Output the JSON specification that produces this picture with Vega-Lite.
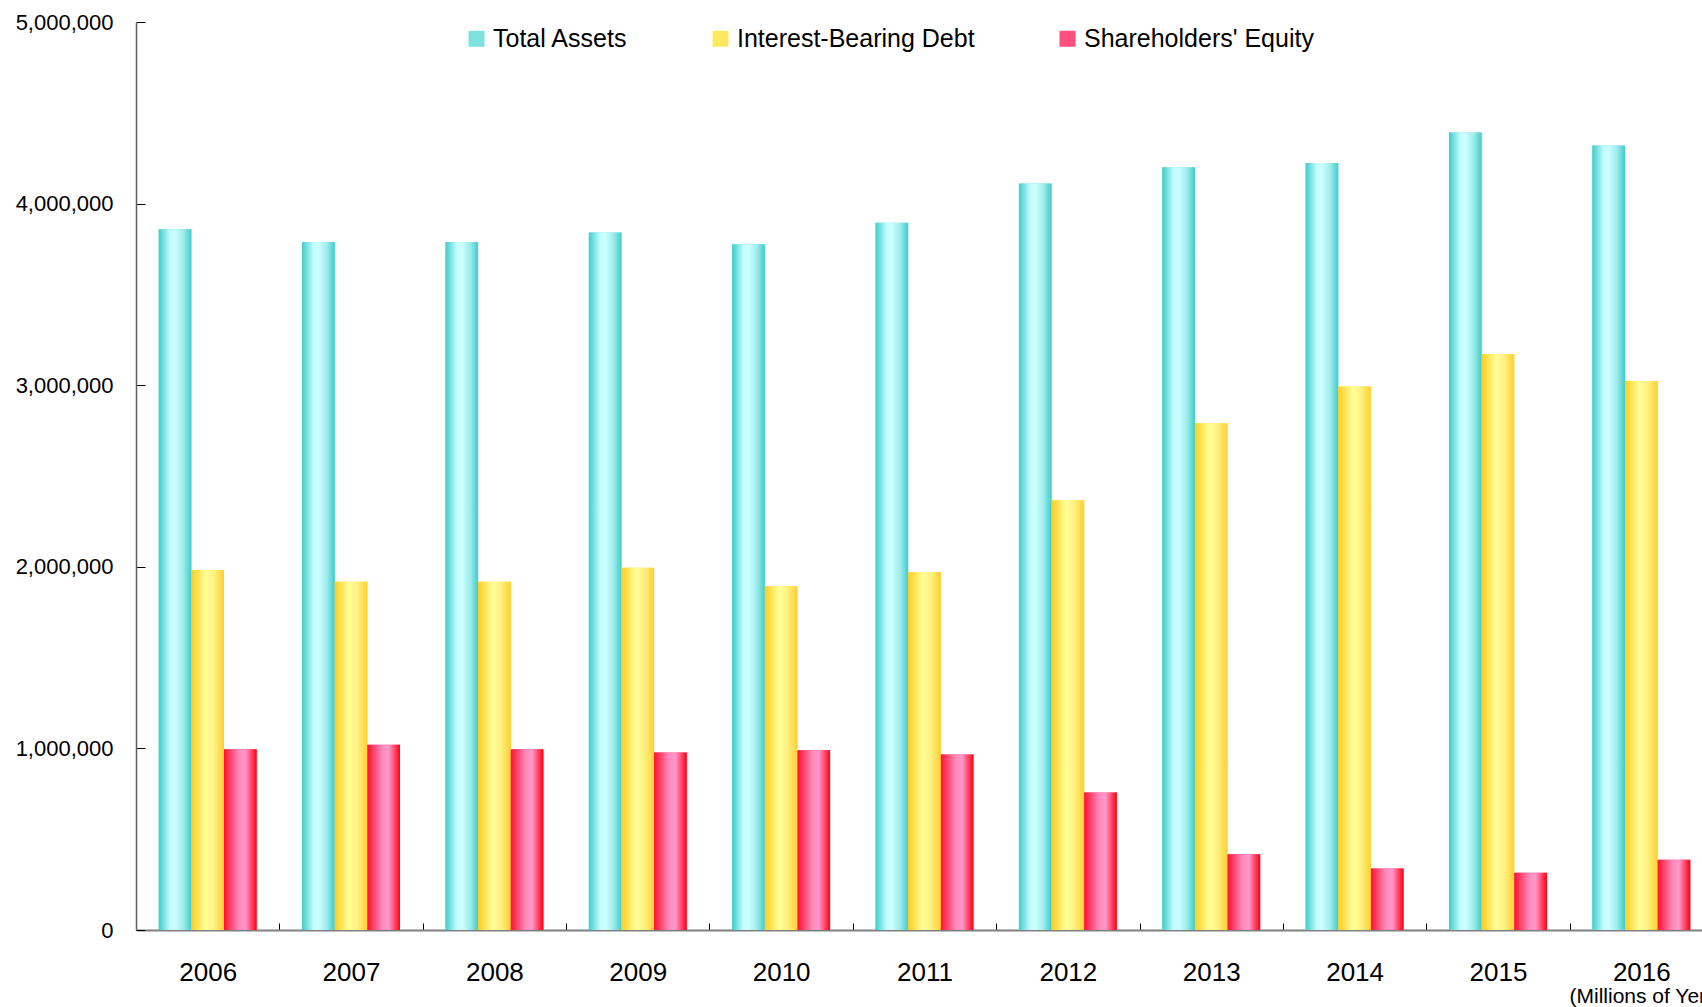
{
  "$schema": "https://vega.github.io/schema/vega-lite/v6.json",
  "width": 1566,
  "height": 908,
  "autosize": {"type": "none"},
  "padding": {"left": 136, "top": 22, "right": 0, "bottom": 77},
  "config": {
    "view": {"stroke": null},
    "font": "Liberation Sans",
    "axis": {"grid": false, "labelColor": "#000000", "labelFont": "Liberation Sans", "titleFont": "Liberation Sans"}
  },
  "data": {
    "values": [
      {"year": "2006", "series": "Total Assets", "value": 3859000},
      {"year": "2007", "series": "Total Assets", "value": 3788000},
      {"year": "2008", "series": "Total Assets", "value": 3788000},
      {"year": "2009", "series": "Total Assets", "value": 3841000},
      {"year": "2010", "series": "Total Assets", "value": 3776000},
      {"year": "2011", "series": "Total Assets", "value": 3895000},
      {"year": "2012", "series": "Total Assets", "value": 4111000},
      {"year": "2013", "series": "Total Assets", "value": 4200000},
      {"year": "2014", "series": "Total Assets", "value": 4224000},
      {"year": "2015", "series": "Total Assets", "value": 4391000},
      {"year": "2016", "series": "Total Assets", "value": 4320000},
      {"year": "2006", "series": "Interest-Bearing Debt", "value": 1983000},
      {"year": "2007", "series": "Interest-Bearing Debt", "value": 1917000},
      {"year": "2008", "series": "Interest-Bearing Debt", "value": 1917000},
      {"year": "2009", "series": "Interest-Bearing Debt", "value": 1995000},
      {"year": "2010", "series": "Interest-Bearing Debt", "value": 1893000},
      {"year": "2011", "series": "Interest-Bearing Debt", "value": 1971000},
      {"year": "2012", "series": "Interest-Bearing Debt", "value": 2366000},
      {"year": "2013", "series": "Interest-Bearing Debt", "value": 2790000},
      {"year": "2014", "series": "Interest-Bearing Debt", "value": 2993000},
      {"year": "2015", "series": "Interest-Bearing Debt", "value": 3172000},
      {"year": "2016", "series": "Interest-Bearing Debt", "value": 3023000},
      {"year": "2006", "series": "Shareholders' Equity", "value": 996000},
      {"year": "2007", "series": "Shareholders' Equity", "value": 1020000},
      {"year": "2008", "series": "Shareholders' Equity", "value": 996000},
      {"year": "2009", "series": "Shareholders' Equity", "value": 978000},
      {"year": "2010", "series": "Shareholders' Equity", "value": 990000},
      {"year": "2011", "series": "Shareholders' Equity", "value": 966000},
      {"year": "2012", "series": "Shareholders' Equity", "value": 757000},
      {"year": "2013", "series": "Shareholders' Equity", "value": 417000},
      {"year": "2014", "series": "Shareholders' Equity", "value": 339000},
      {"year": "2015", "series": "Shareholders' Equity", "value": 315000},
      {"year": "2016", "series": "Shareholders' Equity", "value": 387000}
    ]
  },
  "encoding": {
    "x": {
      "field": "year", "type": "nominal",
      "scale": {"paddingInner": 0, "paddingOuter": 0, "range": [0, 1577]},
      "axis": {
        "labelAngle": 0, "labelFontSize": 26, "labelBaseline": "alphabetic",
        "tickBand": "extent", "tickSize": -7, "tickColor": "#000000", "tickWidth": 1,
        "labelPadding": 57,
        "domainColor": "#808080", "domainWidth": 2,
        "title": "(Millions of Yen)", "titleFontSize": 21, "titleFontWeight": "normal",
        "titleColor": "#000000", "titleAlign": "left", "titleAnchor": "start",
        "titleX": 1433, "titleY": 72, "titleBaseline": "alphabetic"
      }
    },
    "xOffset": {
      "field": "series", "type": "nominal",
      "scale": {"domain": ["Total Assets", "Interest-Bearing Debt", "Shareholders' Equity"], "paddingInner": 0, "paddingOuter": 0.696}
    },
    "y": {
      "field": "value", "type": "quantitative",
      "scale": {"domain": [0, 5000000], "nice": false},
      "axis": {
        "values": [0, 1000000, 2000000, 3000000, 4000000, 5000000],
        "format": ",d", "labelFontSize": 22, "labelBaseline": "middle",
        "tickSize": -9, "tickColor": "#000000", "tickWidth": 1,
        "labelPadding": 32,
        "domainColor": "#606060", "domainWidth": 1.5,
        "title": null
      }
    }
  },
  "layer": [
    {
      "mark": {"type": "bar", "strokeWidth": 0},
      "encoding": {
        "color": {
          "field": "series", "type": "nominal",
          "scale": {
            "domain": ["Total Assets", "Interest-Bearing Debt", "Shareholders' Equity"],
            "range": ["#7FE0E0", "#FFE860", "#FF5080"]
          },
          "legend": {
            "orient": "none", "legendX": 328, "legendY": 4, "direction": "horizontal",
            "title": null, "padding": 0, "columnPadding": 80,
            "symbolType": "square", "symbolSize": 256, "symbolStrokeWidth": 0,
            "labelFontSize": 25, "labelOffset": 4, "labelLimit": 400,
            "labelColor": "#000000", "labelFont": "Liberation Sans",
            "encode": {
              "symbols": {
                "update": {
                  "fill": [
                    {"test": "datum.value === 'Total Assets'", "value": {"gradient": "linear", "x1": 0, "y1": 0, "x2": 1, "y2": 0, "stops": [{"offset": 0, "color": "#40CCCC"}, {"offset": 0.45, "color": "#CCFFFF"}, {"offset": 1, "color": "#40CCCC"}]}},
                    {"test": "datum.value === 'Interest-Bearing Debt'", "value": {"gradient": "linear", "x1": 0, "y1": 0, "x2": 1, "y2": 0, "stops": [{"offset": 0, "color": "#FFCC20"}, {"offset": 0.45, "color": "#FFFF99"}, {"offset": 1, "color": "#FFD030"}]}},
                    {"value": {"gradient": "linear", "x1": 0, "y1": 0, "x2": 1, "y2": 0, "stops": [{"offset": 0, "color": "#FF1030"}, {"offset": 0.55, "color": "#FF99CC"}, {"offset": 1, "color": "#FF0010"}]}}
                  ]
                }
              }
            }
          }
        }
      }
    },
    {
      "transform": [{"filter": "datum.series === 'Total Assets'"}],
      "mark": {"type": "bar", "strokeWidth": 0, "color": {"gradient": "linear", "x1": 0, "y1": 0, "x2": 1, "y2": 0, "stops": [
        {"offset": 0, "color": "#40CCCC"},
        {"offset": 0.35, "color": "#C4FDFD"},
        {"offset": 0.5, "color": "#CCFFFF"},
        {"offset": 0.75, "color": "#A0ECEC"},
        {"offset": 1, "color": "#40CCCC"}]}}
    },
    {
      "transform": [{"filter": "datum.series === 'Interest-Bearing Debt'"}],
      "mark": {"type": "bar", "strokeWidth": 0, "color": {"gradient": "linear", "x1": 0, "y1": 0, "x2": 1, "y2": 0, "stops": [
        {"offset": 0, "color": "#FFCC20"},
        {"offset": 0.45, "color": "#FFFF99"},
        {"offset": 0.7, "color": "#FFF080"},
        {"offset": 1, "color": "#FFD030"}]}}
    },
    {
      "transform": [{"filter": "datum.series === \"Shareholders' Equity\""}],
      "mark": {"type": "bar", "strokeWidth": 0, "color": {"gradient": "linear", "x1": 0, "y1": 0, "x2": 1, "y2": 0, "stops": [
        {"offset": 0, "color": "#FF1030"},
        {"offset": 0.45, "color": "#FF88BB"},
        {"offset": 0.65, "color": "#FF99CC"},
        {"offset": 1, "color": "#FF0010"}]}}
    }
  ]
}
